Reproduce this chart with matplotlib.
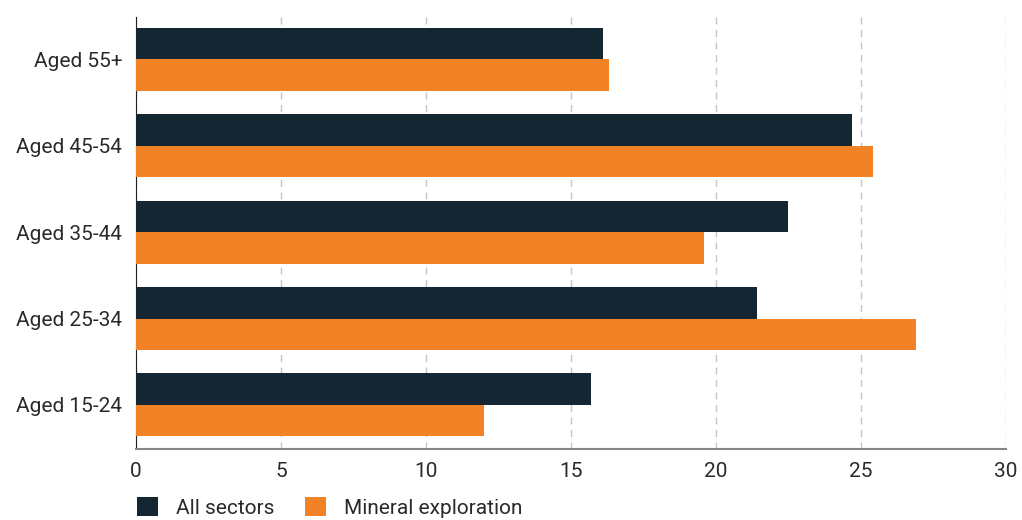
import matplotlib.pyplot as plt
import numpy as np

plt.rcParams['font.family'] = ['Roboto', 'DejaVu Sans']

groups = ['Aged 15-24', 'Aged 25-34', 'Aged 35-44', 'Aged 45-54', 'Aged 55+']
all_sectors = [15.7, 21.4, 22.5, 24.7, 16.1]
mineral_exploration = [12.0, 26.9, 19.6, 25.4, 16.3]

dark = '#142632'
orange = '#f28226'

fig = plt.figure(figsize=(10.22, 5.2), dpi=100)
ax = fig.add_axes([0.1331, 0.1365, 0.8512, 0.8308])

y = np.arange(len(groups))
h = 0.365
ax.barh(y + h / 2, all_sectors, height=h, color=dark, label='All sectors', zorder=3)
ax.barh(y - h / 2, mineral_exploration, height=h, color=orange,
        label='Mineral exploration', zorder=3)

ax.set_xlim(0, 30)
ax.set_ylim(-0.51, 4.49)
ax.set_xticks(range(0, 31, 5))
ax.set_yticks(y)
ax.set_yticklabels(groups)

ax.xaxis.grid(True, linestyle=(0, (5, 4)), color='#c4c4c4', linewidth=1, zorder=0)
for s in ['top', 'right']:
    ax.spines[s].set_visible(False)
ax.spines['left'].set_color('#222222')
ax.spines['bottom'].set_color('#888888')
ax.spines['bottom'].set_linewidth(1.5)
ax.tick_params(length=0, labelsize=15, colors='#2a2a2a', pad=9)
ax.tick_params(axis='y', pad=10)

ax.legend(loc='lower left', bbox_to_anchor=(135 / 1022, 0.0), bbox_transform=fig.transFigure,
          ncol=2, frameon=False, fontsize=15, handlelength=1.0, handleheight=1.0,
          borderpad=0.1, borderaxespad=0, columnspacing=1.5, handletextpad=0.85,
          labelcolor='#2a2a2a')

fig.savefig('out.png', dpi=100)
